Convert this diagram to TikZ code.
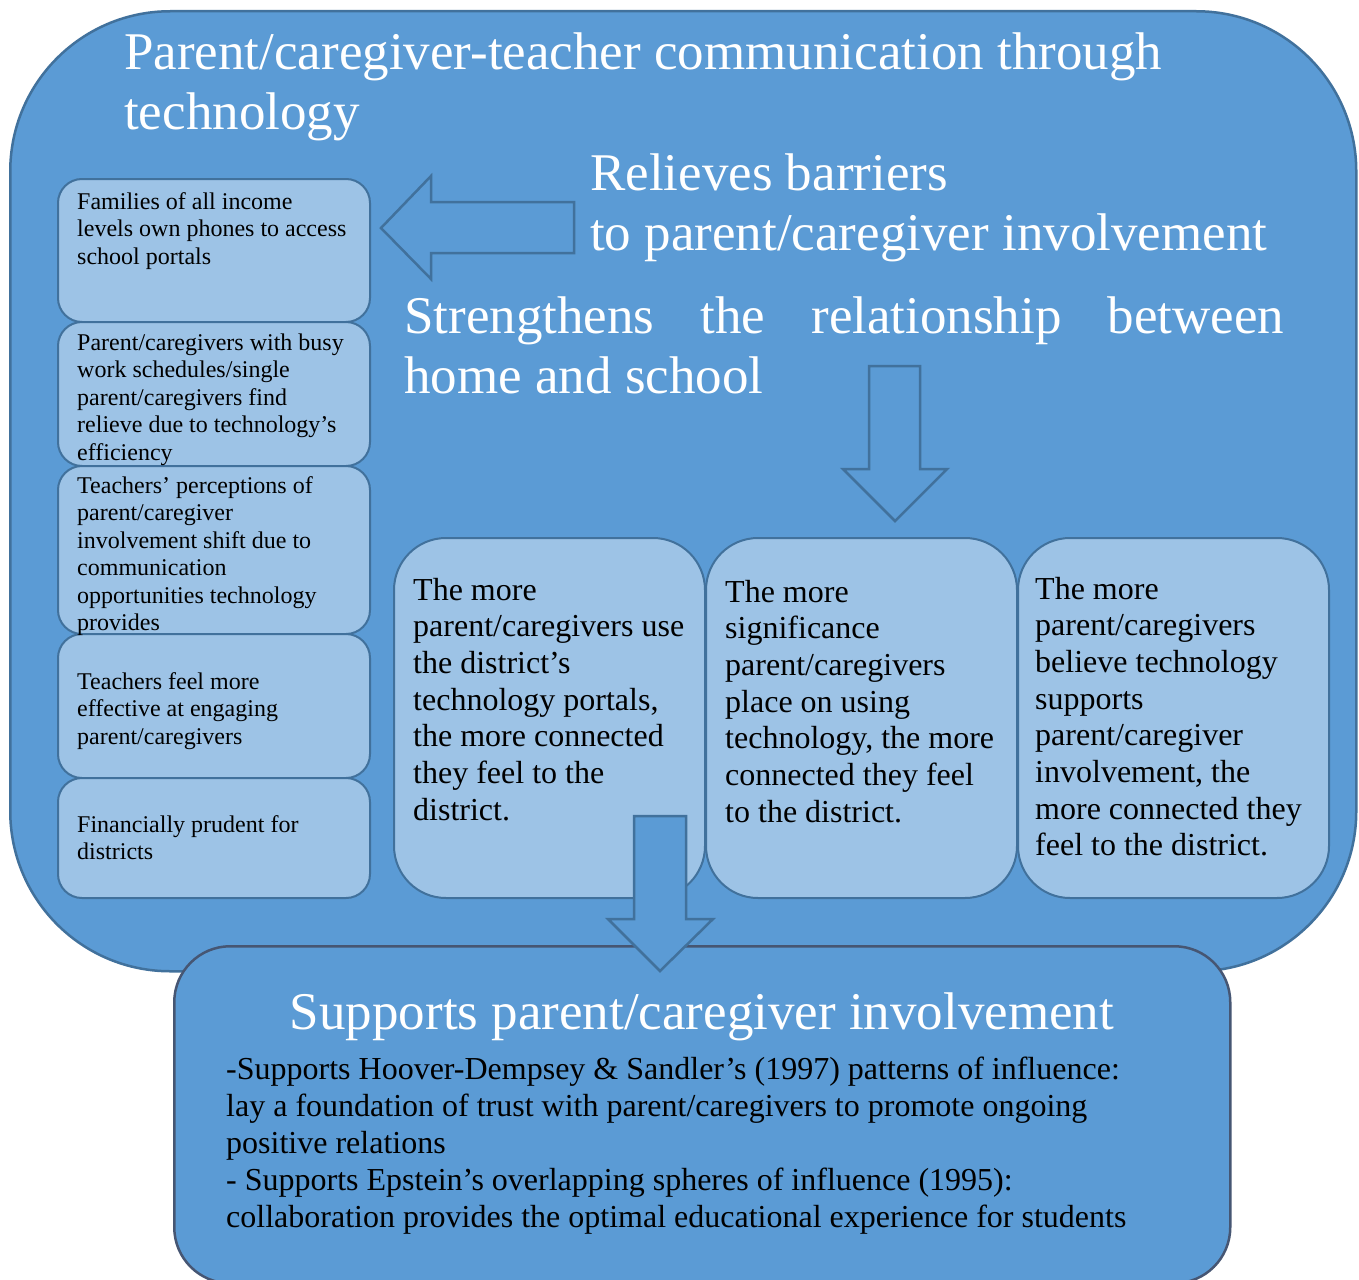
\documentclass[tikz,border=0pt]{standalone}
\usepackage{fontspec}
\setmainfont{Liberation Serif}
\definecolor{bgblue}{HTML}{5B9BD5}
\definecolor{edgeblue}{HTML}{41719C}
\definecolor{lightblue}{HTML}{9DC3E6}
\definecolor{darkedge}{HTML}{465673}
\tikzset{
  panel/.style={draw=edgeblue, line width=2.5pt, fill=bgblue, rounded corners=160pt, inner sep=0pt, anchor=north west},
  bottompanel/.style={draw=darkedge, line width=2.5pt, fill=bgblue, rounded corners=56pt, inner sep=0pt, anchor=north west},
  smallbox/.style={draw=edgeblue, line width=2pt, fill=lightblue, rounded corners=24pt, minimum width=312pt, inner sep=0pt, anchor=north west},
  midbox/.style={draw=edgeblue, line width=2pt, fill=lightblue, rounded corners=52pt, minimum width=311pt, minimum height=360pt, inner sep=0pt, anchor=north west},
  blockarrow/.style={draw=edgeblue, line width=2.5pt, fill=bgblue, line join=miter},
  whitetext/.style={text=white, inner sep=0pt, anchor=base west, font=\fontsize{53}{60}\selectfont},
  smalltext/.style={inner sep=0pt, anchor=base west, font=\fontsize{24}{27.5}\selectfont},
  midtext/.style={inner sep=0pt, anchor=base west, font=\fontsize{32}{36.7}\selectfont},
}
\begin{document}
\begin{tikzpicture}[x=1pt,y=-1pt]
\useasboundingbox (0,0) rectangle (1359,1279);
\fill[white] (0,0) rectangle (1359,1279);
% outer panel
\node[panel, minimum width=1346pt, minimum height=960pt] (outer) at (9,10) {};
% left boxes
\node[smallbox, minimum height=143pt] (l1) at (57,178) {};
\node[smallbox, minimum height=144pt] (l2) at (57,321) {};
\node[smallbox, minimum height=168pt] (l3) at (57,465) {};
\node[smallbox, minimum height=144pt] (l4) at (57,633) {};
\node[smallbox, minimum height=120pt] (l5) at (57,777) {};
\node[smalltext] (t1) at (77,209) {\parbox[t]{320pt}{\raggedright Families of all income\\levels own phones to access\\school portals}};
\node[smalltext] (t2) at (77,350) {\parbox[t]{320pt}{\raggedright Parent/caregivers with busy\\work schedules/single\\parent/caregivers find\\relieve due to technology’s\\efficiency}};
\node[smalltext] (t3) at (77,493) {\parbox[t]{320pt}{\raggedright Teachers’ perceptions of\\parent/caregiver\\involvement shift due to\\communication\\opportunities technology\\provides}};
\node[smalltext] (t4) at (77,689) {\parbox[t]{320pt}{\raggedright Teachers feel more\\effective at engaging\\parent/caregivers}};
\node[smalltext] (t5) at (77,832) {\parbox[t]{320pt}{\raggedright Financially prudent for\\districts}};
% title and headings
\node[whitetext] (title) at (124,70) {\parbox[t]{1220pt}{\raggedright Parent/caregiver-teacher communication through\\technology}};
\node[whitetext] (relieves) at (590,190) {\parbox[t]{760pt}{\raggedright Relieves barriers\\to parent/caregiver involvement}};
\node[whitetext] (strength) at (404,333) {\parbox[t]{880pt}{\makebox[880pt][s]{Strengthens the relationship between}\\home and school}};
% outline arrows
\draw[blockarrow] (574,202) -- (431,202) -- (431,176) -- (381,228) -- (431,279) -- (431,253) -- (574,253) -- cycle;
\draw[blockarrow] (869,366) -- (920,366) -- (920,469) -- (947,469) -- (895,521) -- (843,469) -- (869,469) -- cycle;
% middle boxes
\node[midbox] (m1) at (393,537) {};
\node[midbox] (m2) at (705,537) {};
\node[midbox] (m3) at (1017,537) {};
\node[midtext] (mt1) at (413,600) {\parbox[t]{300pt}{\raggedright The more\\parent/caregivers use\\the district’s\\technology portals,\\the more connected\\they feel to the\\district.}};
\node[midtext] (mt2) at (725,602) {\parbox[t]{300pt}{\raggedright The more\\significance\\parent/caregivers\\place on using\\technology, the more\\connected they feel\\to the district.}};
\node[midtext] (mt3) at (1035,599) {\parbox[t]{300pt}{\raggedright The more\\parent/caregivers\\believe technology\\supports\\parent/caregiver\\involvement, the\\more connected they\\feel to the district.}};
% bottom panel
\node[bottompanel, minimum width=1056pt, minimum height=337pt] (bottom) at (173,945) {};
\node[text=white, inner sep=0pt, anchor=base, font=\fontsize{53}{60}\selectfont] (btitle) at (702,1029) {Supports parent/caregiver involvement};
\node[midtext, font=\fontsize{32}{37}\selectfont] (btext) at (226,1079) {\parbox[t]{1000pt}{\raggedright -Supports Hoover-Dempsey \& Sandler’s (1997) patterns of influence:\\lay a foundation of trust with parent/caregivers to promote ongoing\\positive relations\\- Supports Epstein’s overlapping spheres of influence (1995):\\collaboration provides the optimal educational experience for students}};
% filled arrow into bottom panel
\draw[blockarrow] (634,816) -- (686,816) -- (686,919) -- (713,919) -- (660,971) -- (608,919) -- (634,919) -- cycle;
\end{tikzpicture}
\end{document}
